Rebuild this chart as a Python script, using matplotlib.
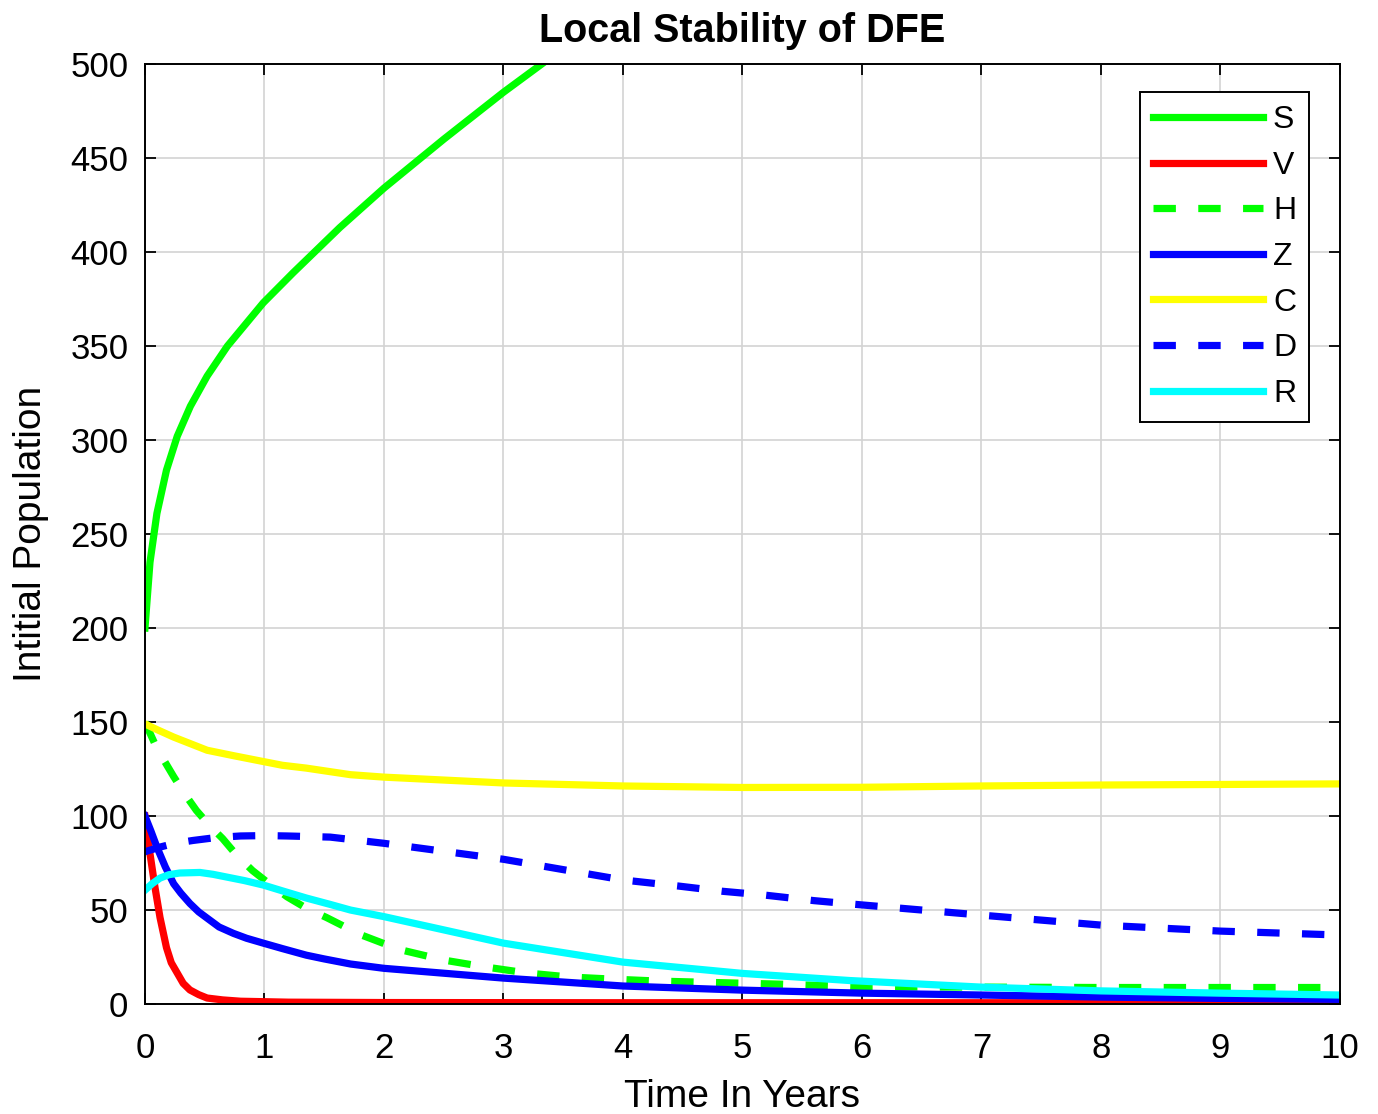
import numpy as np
import matplotlib
matplotlib.use("Agg")
import matplotlib.pyplot as plt

plt.rcParams['font.family'] = ['Liberation Sans', 'DejaVu Sans']

# values
s_t = [0, 0.042, 0.1, 0.18, 0.27, 0.38, 0.52, 0.69, 0.99, 1.24, 1.63, 2.0, 2.5, 3.0, 3.32]
s_v = [200, 235, 261, 284, 302, 318, 334, 350, 373, 389, 413, 434, 460, 485, 500]

v_t = [0, 0.042, 0.084, 0.126, 0.18, 0.22, 0.27, 0.32, 0.376, 0.45, 0.52, 0.65, 0.8, 1.2, 2, 4, 10]
v_v = [100, 80, 62, 46, 30, 22, 16.5, 11, 7.5, 5, 3.2, 2.2, 1.5, 1.0, 0.8, 0.7, 0.7]

h_t = [0, 0.1, 0.24, 0.33, 0.43, 0.54, 0.65, 0.77, 0.9, 1.05, 1.19, 1.35, 1.52, 1.8, 2.13,
       2.5, 2.85, 3.2, 3.55, 3.9, 4.3, 5.3, 6, 7, 8, 9, 10]
h_v = [150, 136, 121, 112, 103, 95, 88, 79, 71, 63.5, 57, 51, 46, 37, 29,
       23.4, 19.7, 16.5, 14.4, 13.3, 12.2, 10.6, 9.2, 9, 8.8, 8.8, 8.8]

z_t = [0, 0.05, 0.1, 0.17, 0.24, 0.3, 0.376, 0.45, 0.52, 0.62, 0.74, 0.85, 0.99, 1.15, 1.35,
       1.5, 1.72, 2, 3, 4, 5, 6, 7, 8, 9, 10]
z_v = [100, 92, 83.5, 73, 64, 59, 53.5, 49, 45.7, 41, 37.6, 35, 32.4, 29.5, 26,
       24, 21.3, 19, 13.8, 9.6, 7.4, 5.8, 4.8, 3.7, 3, 2.5]

c_t = [0, 0.1, 0.24, 0.38, 0.52, 0.75, 0.99, 1.15, 1.35, 1.72, 2, 3, 4, 5, 6, 7, 8, 9, 10]
c_v = [149, 146, 142, 138.5, 135, 132, 129, 127, 125.5, 122, 120.7, 117.6, 116, 115.2, 115.3,
       116, 116.5, 116.8, 117.1]

d_t = [0, 0.06, 0.126, 0.25, 0.4, 0.6, 0.8, 1.0, 1.19, 1.55, 2, 3, 4, 4.46, 4.83, 5.18, 5.6,
       5.95, 7, 8, 9, 10]
d_v = [81, 82.2, 83.5, 85.5, 87, 88.6, 89.4, 89.6, 89.4, 88.8, 85.5, 77, 66, 62.8, 60, 58, 55,
       53, 47.3, 42, 38.8, 36.7]

r_t = [0, 0.06, 0.126, 0.2, 0.29, 0.46, 0.57, 0.68, 0.83, 0.99, 1.15, 1.35, 1.55, 1.72, 2, 3,
       4, 5, 5.9, 7, 8, 9, 10]
r_v = [60.6, 64, 67, 68.8, 69.7, 70, 69, 67.6, 65.7, 63.3, 60.2, 56.4, 53, 50, 46.5, 32.4,
       22.3, 16.3, 12.5, 9, 7, 5.8, 4.8]

fig = plt.figure(figsize=(13.78, 11.14), dpi=100)
ax = fig.add_axes([0.1052, 0.0987, 0.8672, 0.8438])

lw = 5.2
dash = (3.1, 3.1)
ax.plot(s_t, s_v, color='#00ff00', lw=lw, label='S')
ax.plot(v_t, v_v, color='#ff0000', lw=lw, label='V')
ax.plot(h_t, h_v, color='#00ff00', lw=lw, ls='--', dashes=dash, label='H')
ax.plot(z_t, z_v, color='#0000ff', lw=lw, label='Z')
ax.plot(c_t, c_v, color='#ffff00', lw=lw, label='C')
ax.plot(d_t, d_v, color='#0000ff', lw=lw, ls='--', dashes=dash, label='D')
ax.plot(r_t, r_v, color='#00ffff', lw=lw, label='R')

ax.set_xlim(0, 10)
ax.set_ylim(0, 500)
ax.set_xticks(range(0, 11))
ax.set_yticks(range(0, 501, 50))
ax.grid(True, color='#d3d3d3', lw=1.2)
ax.tick_params(direction='in', top=True, right=True, labelsize=25, length=8, width=1.3)
ax.tick_params(axis='x', pad=20)
ax.tick_params(axis='y', pad=12)
for sp in ax.spines.values():
    sp.set_linewidth(1.4)

ax.set_title('Local Stability of DFE', fontsize=28.5, fontweight='bold', pad=16)
ax.set_xlabel('Time In Years', fontsize=28, labelpad=10)
ax.set_ylabel('Intitial Population', fontsize=28, labelpad=15)

leg = ax.legend(loc='upper right', bbox_to_anchor=(0.974, 0.970), fontsize=23,
                handlelength=3.45, fancybox=False, edgecolor='black', framealpha=1,
                labelspacing=0.49, borderpad=0.4, handletextpad=0.3, borderaxespad=0)
leg.get_frame().set_linewidth(1.4)

fig.savefig('out.png', dpi=100)
